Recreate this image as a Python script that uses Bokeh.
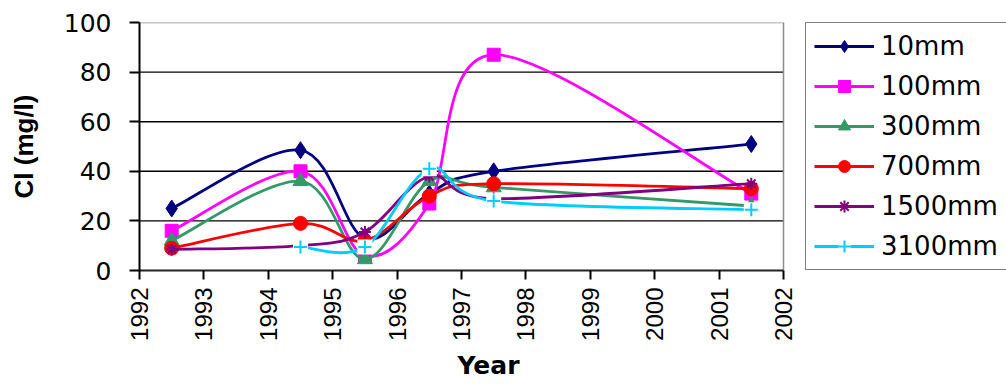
import math

from bokeh.embed import file_html
from bokeh.models import (ColumnDataSource, FixedTicker, Legend, LegendItem,
                          Range1d, Title)
from bokeh.plotting import figure
from bokeh.resources import INLINE

# Sampling dates (mid-year) and chloride concentration (mg/l) at each depth
years = [1992.5, 1994.5, 1995.5, 1996.5, 1997.5, 2001.5]
cl_10mm = [25, 48.5, 13, 31, 40, 51]
cl_100mm = [16, 40, 6, 27, 87, 31]
cl_300mm = [12, 36, 4.5, 36, 33.5, 26]
cl_700mm = [9, 19, 12, 30, 35, 33]
cl_1500mm = [8.5, 10, 15.5, 38, 29, 35]
cl_3100mm = [float("nan"), 9.5, 9.5, 41, 28, 24.5]

depth_labels = ["10mm", "100mm", "300mm", "700mm", "1500mm", "3100mm"]
year_ticks = list(range(1992, 2003))
cl_ticks = [0, 20, 40, 60, 80, 100]
grid_ticks = [20, 40, 60, 80]

# page geometry (pixels)
W, H = 1006, 384
LEFT, TOP, BOTTOM = 139, 22, 114
AXIS_PX = 644  # width of the 1992-2002 span
x_lo, x_hi = year_ticks[0], year_ticks[-1]
y_lo, y_hi = cl_ticks[0], cl_ticks[-1]
# the frame runs on to the page edge so the key box can sit beside the axes
x_view_end = x_lo + (x_hi - x_lo) * (W - LEFT) / AXIS_PX


def smooth_segments(xs, ys):
    """Cubic Bezier pieces (Catmull-Rom style control points) through the samples."""
    pts = [(x, y) for x, y in zip(xs, ys) if not math.isnan(y)]
    n = len(pts)
    seg = dict(x0=[], y0=[], x1=[], y1=[], cx0=[], cy0=[], cx1=[], cy1=[])
    for i in range(n - 1):
        a = pts[max(i - 1, 0)]
        b = pts[i]
        c = pts[i + 1]
        d = pts[min(i + 2, n - 1)]
        seg["x0"].append(b[0])
        seg["y0"].append(b[1])
        seg["x1"].append(c[0])
        seg["y1"].append(c[1])
        seg["cx0"].append(b[0] + (c[0] - a[0]) / 6.0)
        seg["cy0"].append(b[1] + (c[1] - a[1]) / 6.0)
        seg["cx1"].append(c[0] - (d[0] - b[0]) / 6.0)
        seg["cy1"].append(c[1] - (d[1] - b[1]) / 6.0)
    return ColumnDataSource(seg)


p = figure(
    width=W,
    height=H,
    x_range=Range1d(x_lo, x_view_end),
    y_range=Range1d(y_lo, y_hi),
    output_backend="svg",
    toolbar_location=None,
    min_border_left=LEFT,
    min_border_right=0,
    min_border_top=TOP,
    min_border_bottom=BOTTOM,
)
p.background_fill_color = "white"
p.border_fill_color = "white"
p.outline_line_color = None

# x axis
xa = p.xaxis[0]
xa.bounds = (x_lo, x_hi)
xa.ticker = FixedTicker(ticks=year_ticks)
xa.major_label_orientation = math.pi / 2
xa.major_label_text_font = "Liberation Sans"
xa.major_label_text_font_size = "24px"
xa.major_label_text_color = "black"
xa.major_label_standoff = 8
xa.major_tick_out = 9
xa.major_tick_in = 0
xa.major_tick_line_color = "black"
xa.major_tick_line_width = 2
xa.minor_tick_line_color = None
xa.axis_line_color = "#222222"
xa.axis_line_width = 2

p.add_layout(Title(text="Year", align="left", offset=318, standoff=10,
                   text_font="DejaVu Sans", text_font_size="25px",
                   text_font_style="bold", text_color="black"), "below")

# y axis
ya = p.yaxis[0]
ya.ticker = FixedTicker(ticks=cl_ticks)
ya.major_label_text_font = "DejaVu Sans"
ya.major_label_text_font_size = "25px"
ya.major_label_text_color = "black"
ya.major_label_standoff = 18
ya.major_tick_out = 10
ya.major_tick_in = 0
ya.major_tick_line_color = "black"
ya.major_tick_line_width = 2
ya.minor_tick_line_color = None
ya.axis_line_color = "black"
ya.axis_line_width = 2
ya.axis_label = "Cl (mg/l)"
ya.axis_label_text_font = "Liberation Sans"
ya.axis_label_text_font_size = "26px"
ya.axis_label_text_font_style = "bold"
ya.axis_label_text_color = "black"
ya.axis_label_standoff = 22

p.xgrid.visible = False
p.ygrid.visible = False

# horizontal gridlines and the grey plot-area edge, limited to the axis span
p.segment(x0=x_lo, x1=x_hi, y0=grid_ticks, y1=grid_ticks,
          line_color="black", line_width=1.4)
p.segment(x0=[x_lo, x_hi], x1=[x_hi, x_hi], y0=[y_hi, y_lo], y1=[y_hi, y_hi],
          line_color="#8c8c8c", line_width=1.5)

series = [
    (cl_10mm, "#000080", "diamond", 17),
    (cl_100mm, "#ff00ff", "square", 13),
    (cl_300mm, "#339966", "triangle", 15),
    (cl_700mm, "#ff0000", "circle", 14),
    (cl_1500mm, "#800080", "asterisk", 12),
    (cl_3100mm, "#00ccff", "cross", 13),
]

items = []
for label, (vals, color, marker, size) in zip(depth_labels, series):
    curve = p.bezier(
        x0="x0", y0="y0", x1="x1", y1="y1", cx0="cx0", cy0="cy0", cx1="cx1", cy1="cy1",
        source=smooth_segments(years, vals), line_color=color, line_width=2.8,
    )
    pts = ColumnDataSource(dict(x=years, y=vals))
    renderers = [curve]
    if marker == "cross":
        # plus markers sit on a white patch
        box = p.scatter("x", "y", source=pts, marker="square", size=15,
                        fill_color="white", line_color=None)
        renderers.append(box)
    dots = p.scatter("x", "y", source=pts, marker=marker, size=size,
                     fill_color=color, line_color=color,
                     line_width=2 if marker in ("asterisk", "cross") else 1)
    renderers.append(dots)
    items.append(LegendItem(label=label, renderers=renderers))

legend = Legend(
    items=items,
    location=(666, 0),
    orientation="vertical",
    glyph_width=60,
    glyph_height=30,
    label_height=30,
    label_standoff=7,
    spacing=10,
    padding=8,
    margin=0,
    label_text_font="DejaVu Sans",
    label_text_font_size="26px",
    label_text_color="black",
    border_line_color="black",
    border_line_width=1.5,
    background_fill_color="white",
    background_fill_alpha=1.0,
)
p.add_layout(legend)

open("out.html", "w").write(file_html(p, INLINE))
